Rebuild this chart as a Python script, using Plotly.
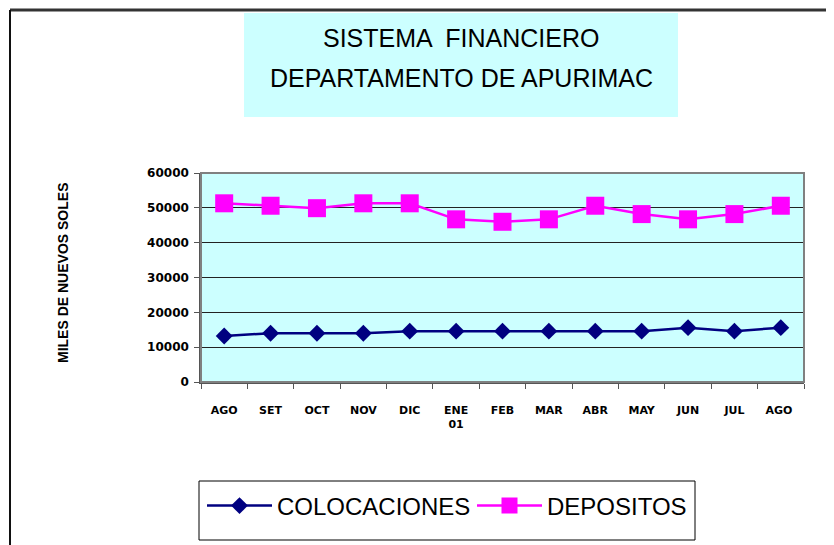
import plotly.graph_objects as go

months = ["AGO", "SET", "OCT", "NOV", "DIC", "ENE<br>01", "FEB", "MAR", "ABR", "MAY", "JUN", "JUL", "AGO "]
colocaciones = [13200, 14000, 14000, 14000, 14600, 14600, 14600, 14600, 14600, 14600, 15600, 14600, 15600]
depositos = [51300, 50600, 49900, 51300, 51300, 46700, 46000, 46700, 50600, 48200, 46700, 48200, 50600]
y_ticks = [0, 10000, 20000, 30000, 40000, 50000, 60000]

OFF = 8  # page body margin
W, H = 834 - OFF, 545 - OFF
L, R, T, B = 201 - OFF, 804 - OFF, 173 - OFF, 382 - OFF


def px(x):
    return (x - OFF - L) / (R - L)


def py(y):
    return (B - (y - OFF)) / (B - T)


FONT = "Liberation Sans, Arial, sans-serif"
TICKFONT = "DejaVu Sans, sans-serif"

fig = go.Figure()
fig.add_trace(go.Scatter(
    x=months, y=colocaciones, name="COLOCACIONES", mode="lines+markers",
    line=dict(color="#000080", width=2.5),
    marker=dict(symbol="diamond", size=13, color="#000080"),
))
fig.add_trace(go.Scatter(
    x=months, y=depositos, name="DEPOSITOS", mode="lines+markers",
    line=dict(color="#FF00FF", width=2.5),
    marker=dict(symbol="square", size=18, color="#FF00FF"),
))

shapes = [
    # outer border (top and left)
    dict(type="line", xref="paper", yref="paper", x0=px(10), x1=px(834), y0=py(10), y1=py(10),
         line=dict(color="#333333", width=3)),
    dict(type="line", xref="paper", yref="paper", x0=px(10), x1=px(10), y0=py(10), y1=py(545),
         line=dict(color="#111111", width=2)),
    # title box
    dict(type="rect", xref="paper", yref="paper", x0=px(244), x1=px(678), y0=py(13), y1=py(117),
         fillcolor="#CCFFFF", line=dict(width=0), layer="below"),
    # plot area border
    dict(type="rect", xref="paper", yref="paper", x0=0, x1=1, y0=0, y1=1,
         line=dict(color="#808080", width=2), layer="above"),
    # legend box
    dict(type="rect", xref="paper", yref="paper", x0=px(199), x1=px(695), y0=py(481), y1=py(540),
         line=dict(color="#000000", width=1), fillcolor="white", layer="below"),
]

annotations = [
    dict(text="SISTEMA  FINANCIERO", xref="paper", yref="paper", x=px(461), y=py(38),
         showarrow=False, font=dict(family=FONT, size=25, color="black"), xanchor="center", yanchor="middle"),
    dict(text="DEPARTAMENTO DE APURIMAC", xref="paper", yref="paper", x=px(461), y=py(78),
         showarrow=False, font=dict(family=FONT, size=25, color="black"), xanchor="center", yanchor="middle"),
    dict(text="MILES DE NUEVOS SOLES", xref="paper", yref="paper", x=px(63), y=py(273),
         showarrow=False, textangle=-90, font=dict(family=FONT, size=14, color="black", weight="bold"),
         xanchor="center", yanchor="middle"),
]

fig.update_layout(
    width=W, height=H,
    margin=dict(l=L, r=W - R, t=T, b=H - B),
    paper_bgcolor="white",
    plot_bgcolor="#CCFFFF",
    shapes=shapes,
    annotations=annotations,
    showlegend=True,
    legend=dict(orientation="h", x=px(202), y=py(506), xanchor="left", yanchor="middle",
                font=dict(family=FONT, size=24, color="black"),
                bgcolor="rgba(0,0,0,0)", borderwidth=0, entrywidth=190, itemwidth=65),
    xaxis=dict(
        type="category", range=[-0.5, 12.5], showgrid=False, showline=True,
        linecolor="#555555", linewidth=1.5, ticks="outside", tickson="boundaries",
        ticklen=5, tickcolor="#555555", ticklabelstandoff=17,
        tickfont=dict(family=TICKFONT, size=11, color="black", weight="bold"),
        fixedrange=True,
    ),
    yaxis=dict(
        range=[0, 60000], tickvals=y_ticks, ticktext=[str(v) for v in y_ticks],
        showgrid=True, gridcolor="#222222", gridwidth=1, zeroline=False,
        showline=True, linecolor="#555555", linewidth=1.5, ticks="outside", ticklen=5,
        tickcolor="#555555", ticklabelstandoff=3,
        tickfont=dict(family=TICKFONT, size=12, color="black", weight="bold"),
        fixedrange=True,
    ),
)

fig.write_html("out.html")
